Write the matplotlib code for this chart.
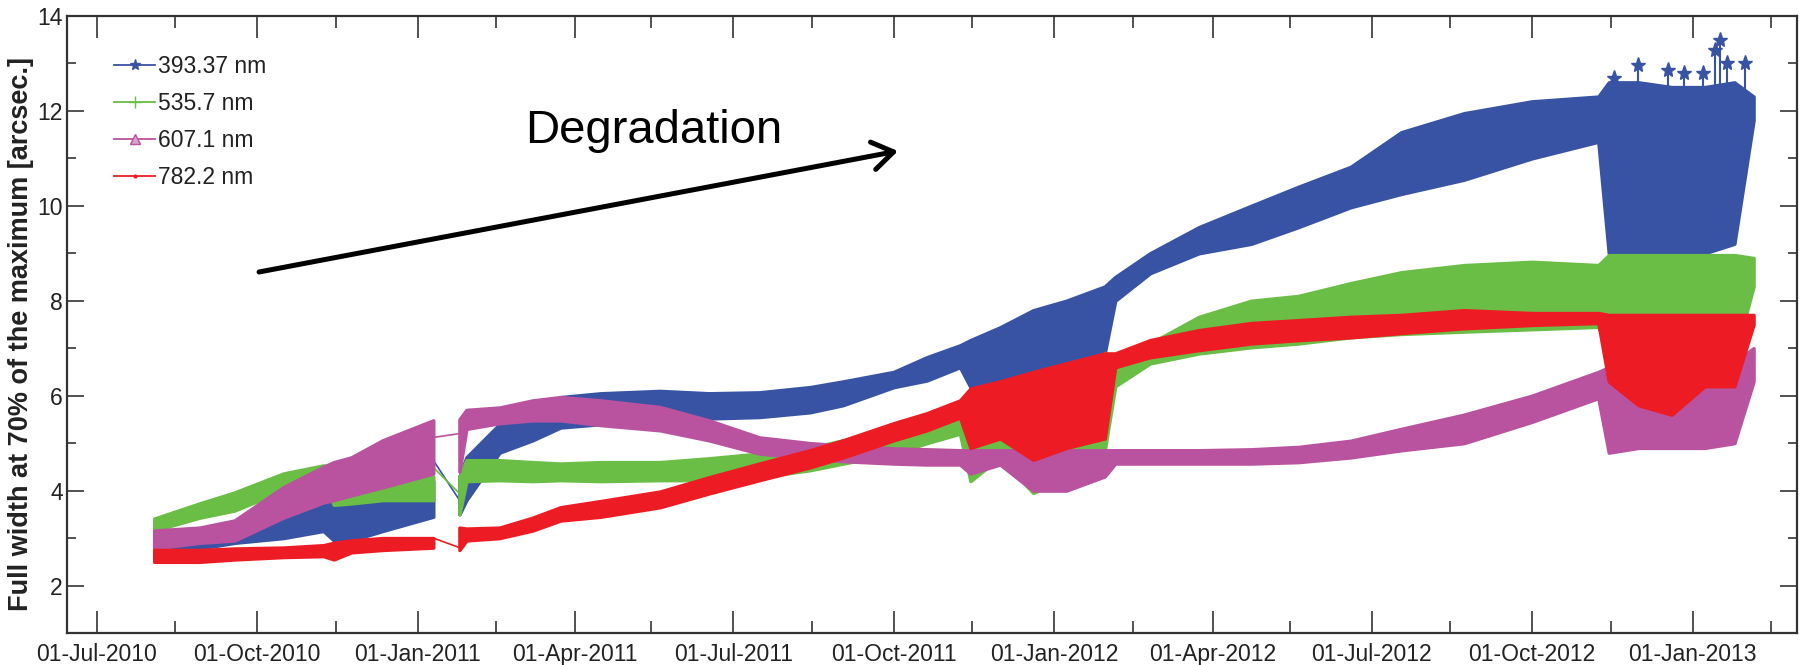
import pandas as pd
import matplotlib
matplotlib.use("Agg")
import matplotlib.pyplot as plt
import matplotlib.dates as mdates
from matplotlib.lines import Line2D

plt.rcParams['font.family'] = ['Liberation Sans Narrow', 'Liberation Sans', 'DejaVu Sans']

# sample dates (band edges of each wavelength)
dates = ['2010-08-03', '2010-08-29', '2010-09-18', '2010-10-16', '2010-11-08', '2010-11-14',
         '2010-11-24', '2010-12-12', '2011-01-10',
         '2011-01-25', '2011-01-29', '2011-02-17', '2011-03-08', '2011-03-24', '2011-04-16',
         '2011-05-20', '2011-06-17', '2011-07-16', '2011-08-14', '2011-09-02', '2011-10-01',
         '2011-10-20', '2011-11-08', '2011-11-14', '2011-12-01', '2011-12-20', '2012-01-08',
         '2012-01-30', '2012-02-05', '2012-02-25', '2012-03-24', '2012-04-23', '2012-05-20',
         '2012-06-19', '2012-07-18', '2012-08-23', '2012-10-01', '2012-11-08', '2012-11-14',
         '2012-12-01', '2012-12-20', '2013-01-08', '2013-01-25', '2013-02-05']
gap = 9  # no data between 10-Jan-2011 and 25-Jan-2011

blue_lo = [2.8, 2.78, 2.9, 3.0, 3.15, 2.95, 2.95, 3.15, 3.45,
           3.5, 3.8, 4.8, 5.06, 5.33, 5.4, 5.42, 5.52, 5.55, 5.65, 5.8, 6.18,
           6.32, 6.6, 6.18, 6.3, 6.5, 6.6, 6.9, 8.0, 8.58, 9.0, 9.2, 9.55,
           9.97, 10.25, 10.55, 11.0, 11.35, 9.0, 9.0, 9.0, 9.0, 9.2, 11.8]
blue_hi = [3.05, 3.0, 3.2, 3.45, 3.72, 3.8, 3.7, 3.8, 4.2,
           4.3, 4.7, 5.4, 5.6, 5.97, 6.05, 6.1, 6.05, 6.07, 6.18, 6.3, 6.5,
           6.81, 7.06, 7.17, 7.44, 7.8, 8.0, 8.3, 8.5, 9.0, 9.55, 10.0, 10.4,
           10.82, 11.55, 11.95, 12.2, 12.3, 12.6, 12.6, 12.5, 12.5, 12.6, 12.3]

green_lo = [3.16, 3.43, 3.58, 4.0, 4.15, 3.7, 3.73, 3.8, 3.8,
            3.5, 4.2, 4.22, 4.2, 4.22, 4.2, 4.22, 4.22, 4.28, 4.43, 4.57, 4.78,
            5.0, 5.2, 4.2, 4.7, 3.95, 4.3, 4.85, 6.2, 6.68, 6.89, 7.02, 7.1,
            7.23, 7.3, 7.35, 7.4, 7.45, 6.9, 6.5, 6.5, 6.5, 6.8, 8.3]
green_hi = [3.41, 3.73, 3.96, 4.36, 4.53, 4.5, 4.0, 4.1, 4.3,
            4.3, 4.64, 4.64, 4.6, 4.57, 4.6, 4.6, 4.68, 4.78, 4.9, 5.06, 5.2,
            5.42, 5.69, 5.6, 5.5, 5.5, 5.9, 6.9, 6.6, 7.1, 7.66, 8.0, 8.1,
            8.37, 8.6, 8.75, 8.82, 8.75, 8.96, 8.96, 8.96, 8.96, 8.96, 8.9]

magenta_lo = [2.78, 2.9, 2.95, 3.43, 3.75, 3.8, 3.9, 4.07, 4.36,
              4.4, 5.3, 5.42, 5.48, 5.48, 5.38, 5.27, 5.06, 4.78, 4.68, 4.62, 4.57,
              4.55, 4.55, 4.36, 4.55, 4.0, 4.0, 4.3, 4.57, 4.57, 4.57, 4.57, 4.6,
              4.7, 4.85, 5.0, 5.45, 5.95, 4.8, 4.9, 4.9, 4.9, 5.0, 6.3]
magenta_hi = [3.16, 3.22, 3.37, 4.07, 4.5, 4.6, 4.7, 5.06, 5.48,
              5.5, 5.7, 5.75, 5.9, 5.97, 5.9, 5.76, 5.48, 5.12, 5.0, 4.95, 4.89,
              4.87, 4.85, 4.85, 4.85, 4.85, 4.85, 4.85, 4.85, 4.85, 4.85, 4.87, 4.92,
              5.05, 5.3, 5.6, 6.0, 6.5, 6.6, 6.5, 6.4, 6.3, 6.7, 7.0]

red_lo = [2.5, 2.5, 2.55, 2.6, 2.62, 2.55, 2.7, 2.75, 2.8,
          2.75, 2.95, 3.0, 3.16, 3.37, 3.45, 3.65, 3.94, 4.22, 4.49, 4.7, 5.06,
          5.27, 5.54, 4.9, 5.1, 4.65, 4.9, 5.1, 6.6, 6.81, 6.96, 7.1, 7.17,
          7.23, 7.32, 7.42, 7.49, 7.53, 6.3, 5.8, 5.6, 6.2, 6.2, 7.5]
red_hi = [2.75, 2.75, 2.78, 2.8, 2.85, 2.9, 2.95, 3.0, 3.0,
          3.22, 3.2, 3.22, 3.43, 3.65, 3.78, 3.98, 4.28, 4.57, 4.85, 5.06, 5.42,
          5.63, 5.9, 6.15, 6.3, 6.5, 6.68, 6.89, 6.89, 7.17, 7.38, 7.53, 7.59,
          7.66, 7.7, 7.8, 7.74, 7.74, 7.7, 7.7, 7.7, 7.7, 7.7, 7.7]

# thin lines across the January 2011 gap
bridge_dates = ['2011-01-10', '2011-01-25']
blue_bridge = [4.64, 3.8]
green_bridge = [4.49, 3.94]
magenta_bridge = [5.12, 5.2]
red_bridge = [3.0, 2.8]

# isolated high points of the 393.37 nm curve (end of 2012)
peak_dates = ['2012-11-17', '2012-12-01', '2012-12-18', '2012-12-27', '2013-01-07',
              '2013-01-14', '2013-01-17', '2013-01-21', '2013-01-31']
peak_vals = [12.7, 12.96, 12.86, 12.8, 12.8, 13.28, 13.5, 13.0, 13.0]

labels = ['393.37 nm', '535.7 nm', '607.1 nm', '782.2 nm']
colors = ['#3953a4', '#6abd45', '#b9529f', '#ed1c24']

t = pd.to_datetime(dates)
series = [(blue_lo, blue_hi, blue_bridge), (green_lo, green_hi, green_bridge),
          (magenta_lo, magenta_hi, magenta_bridge), (red_lo, red_hi, red_bridge)]

fig = plt.figure(figsize=(18.06, 6.65), dpi=100)
ax = fig.add_axes([0.0371, 0.0481, 0.958, 0.928])

for k, (lo, hi, br) in enumerate(series):
    c = colors[k]
    for s in (slice(0, gap), slice(gap, None)):
        ax.fill_between(t[s], lo[s], hi[s], color=c, lw=2.5, zorder=2 + k)
    ax.plot(pd.to_datetime(bridge_dates), br, color=c, lw=1.2, zorder=2 + k)

pk = pd.to_datetime(peak_dates)
ax.vlines(pk, 12.3, peak_vals, color=colors[0], lw=1.5, zorder=2)
ax.plot(pk, peak_vals, ls='none', marker='*', ms=11, color=colors[0], zorder=2)

ax.set_xlim(pd.Timestamp('2010-06-14'), pd.Timestamp('2013-03-02'))
ax.set_ylim(1, 14)
ax.set_yticks([2, 4, 6, 8, 10, 12, 14])
ax.set_yticks([1, 3, 5, 7, 9, 11, 13], minor=True)
ax.xaxis.set_major_locator(mdates.MonthLocator(bymonth=[1, 4, 7, 10], bymonthday=1))
ax.xaxis.set_minor_locator(mdates.MonthLocator(bymonth=[2, 5, 8, 11], bymonthday=15))
ax.xaxis.set_major_formatter(mdates.DateFormatter('%d-%b-%Y'))

ax.tick_params(which='both', direction='in', top=True, right=True, width=1.1,
               colors='#222222', labelsize=16.5)
ax.tick_params(axis='x', which='major', length=16, pad=7)
ax.tick_params(axis='x', which='minor', length=8.5)
ax.tick_params(axis='y', which='major', length=12, pad=3)
ax.tick_params(axis='y', which='minor', length=6.5)
for sp in ax.spines.values():
    sp.set_linewidth(1.6)
    sp.set_color('#333333')

ax.set_ylabel('Full width at 70% of the maximum [arcsec.]', fontsize=19.5, fontweight='bold',
              family=['Liberation Sans', 'DejaVu Sans'], color='#222222')
ax.yaxis.set_label_coords(-0.019, 0.485)

handles = [Line2D([], [], color=colors[0], lw=1.3, marker='*', ms=8),
           Line2D([], [], color=colors[1], lw=1.3, marker='+', ms=9),
           Line2D([], [], color=colors[2], lw=1.3, marker='^', ms=7, mfc='#d9a0cc'),
           Line2D([], [], color=colors[3], lw=1.3, marker='.', ms=4)]
ax.legend(handles, labels, loc='upper left', bbox_to_anchor=(0.022, 0.952), frameon=False,
          fontsize=16.5, handlelength=1.8, handletextpad=0.1, labelspacing=0.62,
          borderaxespad=0, labelcolor='#222222')

ax.text(0.2647, 0.794, 'Degradation', transform=ax.transAxes, fontsize=34,
        ha='left', va='baseline', color='black')
ax.annotate('', xy=(0.4803, 0.781), xytext=(0.111, 0.585), xycoords='axes fraction',
            arrowprops=dict(arrowstyle='->,head_length=0.75,head_width=0.5', lw=3.6,
                            color='black', shrinkA=0, shrinkB=0, mutation_scale=20))

fig.savefig('out.png', dpi=100)
